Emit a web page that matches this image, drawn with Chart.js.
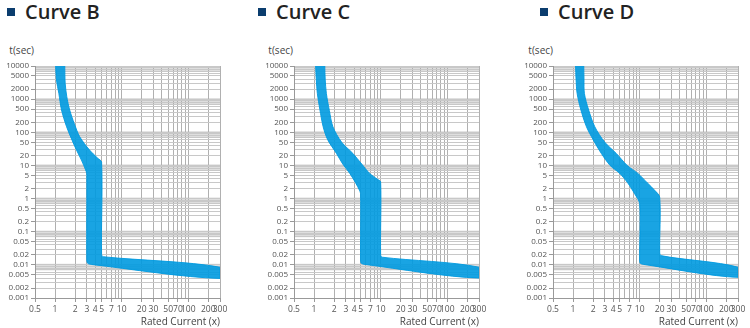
<!DOCTYPE html>
<html>
<head>
<meta charset="utf-8">
<script src="https://cdn.jsdelivr.net/npm/chart.js@4.4.1/dist/chart.umd.min.js"></script>
<style>
body{margin:0;background:#fff;font-family:'Open Sans',sans-serif;}
#wrap{position:relative;width:750px;height:328px;overflow:hidden;}
.panel{position:absolute;top:0;width:240px;height:328px;}
.head{position:absolute;top:0;font-size:20px;font-weight:600;color:#222;white-space:nowrap;line-height:24px;}
.head i{display:inline-block;width:8px;height:8px;background:#0b3d6e;margin-right:10px;vertical-align:3px;}
.unit{position:absolute;top:43px;width:40px;font-size:10px;color:#444;text-align:right;}
</style>
</head>
<body>
<div id="wrap">
  <div class="head" style="left:7px"><i></i>Curve B</div>
  <div class="head" style="left:258px"><i></i>Curve C</div>
  <div class="head" style="left:540px"><i></i>Curve D</div>
  <div class="unit" style="left:-6px">t(sec)</div>
  <div class="unit" style="left:253px">t(sec)</div>
  <div class="unit" style="left:513px">t(sec)</div>
  <div class="panel" style="left:0"><canvas id="chartB" width="240" height="328"></canvas></div>
  <div class="panel" style="left:259px"><canvas id="chartC" width="240" height="328"></canvas></div>
  <div class="panel" style="left:518px"><canvas id="chartD" width="240" height="328"></canvas></div>
</div>
<script>
// axis labels
const yLabels = [10000, 5000, 2000, 1000, 500, 200, 100, 50, 20, 10, 5, 2, 1, 0.5, 0.2, 0.1, 0.05, 0.02, 0.01, 0.005, 0.002, 0.001];
const xLabels = [0.5, 1, 2, 3, 4, 5, 7, 10, 20, 30, 50, 70, 100, 200, 300];
const xGrid = [0.5, 1, 2, 3, 4, 5, 6, 7, 8, 9, 10, 20, 30, 40, 50, 60, 70, 80, 90, 100, 200, 300];
const bandDecades = [0.01, 0.1, 1, 10, 100, 1000, 10000];

// tripping band outlines (multiple of rated current, seconds)
const curveBx = [1.02, 1.05, 1.14, 1.25, 1.49, 1.8, 2.1, 2.49, 2.95, 3, 3, 3.08, 3.5, 300, 300, 5.4, 5, 5, 4.3, 3.3, 2.35, 1.95, 1.66, 1.5, 1.42, 1.4];
const curveBt = [10000, 3800, 1500, 470, 147, 58, 29, 14.5, 6.4, 5, 0.014, 0.0112, 0.0103, 0.0039, 0.0085, 0.0175, 0.02, 12.5, 17, 29, 73, 180, 469, 1200, 3000, 10000];

const curveCx = [1.055, 1.08, 1.12, 1.22, 1.37, 1.6, 2.17, 2.7, 3.43, 4.2, 4.8, 5, 5, 5.1, 5.8, 300, 300, 10.6, 10, 10, 9, 6.8, 5.2, 3.83, 2.6, 1.92, 1.7, 1.53, 1.47, 1.45];
const curveCt = [10000, 4000, 1500, 500, 147, 60, 23, 11, 5.8, 3, 1.8, 1.4, 0.014, 0.0112, 0.0103, 0.004, 0.0085, 0.017, 0.02, 3.2, 3.8, 5.8, 11, 23, 50, 147, 450, 1496, 4000, 10000];

const curveDx = [1.09, 1.11, 1.15, 1.3, 1.59, 2, 2.66, 3.6, 5, 6.6, 8.4, 10, 10, 10.2, 11.5, 300, 300, 20.8, 20, 20, 16.7, 13, 9.35, 6.5, 4.46, 3, 2.12, 1.7, 1.48, 1.46, 1.45];
const curveDt = [10000, 4000, 1500, 500, 147, 60, 23, 10, 5.8, 3, 1.4, 0.7, 0.014, 0.0112, 0.0103, 0.0042, 0.0085, 0.019, 0.025, 1.1, 1.8, 3, 5.8, 10, 23, 50, 147, 500, 1496, 4000, 10000];

function yGridValues() {
    const out = [];
    for (let e = -3; e < 4; e++) {
        for (let m = 1; m < 10; m++) out.push(Number((m * Math.pow(10, e)).toPrecision(3)));
    }
    out.push(10000);
    return out;
}

// light grey bands around each decade line
const bandPlugin = {
    id: 'bands',
    beforeDraw(chart) {
        const {ctx, chartArea, scales} = chart;
        ctx.save();
        ctx.beginPath();
        ctx.rect(chartArea.left, chartArea.top, chartArea.right - chartArea.left, chartArea.bottom - chartArea.top);
        ctx.clip();
        ctx.fillStyle = 'rgba(0,0,0,0.13)';
        bandDecades.forEach(d => {
            const y1 = scales.y.getPixelForValue(d * 1.08);
            const y2 = scales.y.getPixelForValue(d * 0.68);
            ctx.fillRect(chartArea.left, y1, chartArea.right - chartArea.left, y2 - y1);
        });
        ctx.restore();
    }
};

Chart.defaults.font.family = "'Open Sans', sans-serif";
Chart.defaults.color = '#555';

function makeChart(id, xs, ts) {
    return new Chart(document.getElementById(id), {
        type: 'scatter',
        data: {
            datasets: [{
                data: xs.map((v, i) => ({x: v, y: ts[i]})),
                showLine: true,
                fill: 'shape',
                backgroundColor: 'rgba(0,154,224,0.9)',
                borderColor: 'rgba(0,154,224,0.9)',
                borderWidth: 1,
                pointRadius: 0,
                tension: 0.3
            }]
        },
        options: {
            responsive: false,
            animation: false,
            events: [],
            layout: {padding: {top: 66, left: 0, right: 20, bottom: 0}},
            plugins: {legend: {display: false}, tooltip: {enabled: false}},
            scales: {
                x: {
                    type: 'logarithmic',
                    min: 0.5, max: 300,
                    afterBuildTicks: s => { s.ticks = xGrid.map(v => ({value: v})); },
                    afterFit: s => { s.height = 30; },
                    ticks: {
                        autoSkip: false, maxRotation: 0, minRotation: 0, padding: 2,
                        font: {size: 8.5}, color: '#555',
                        callback: v => xLabels.includes(v) ? String(v) : ''
                    },
                    grid: {
                        color: '#b0b0b0', lineWidth: 1, tickLength: 4,
                        tickColor: c => xLabels.includes(c.tick.value) ? '#999' : 'rgba(0,0,0,0)'
                    },
                    border: {color: '#999'},
                    title: {display: true, text: 'Rated Current (x)', align: 'end', color: '#444', font: {size: 10}, padding: 0}
                },
                y: {
                    type: 'logarithmic',
                    min: 0.001, max: 10000,
                    afterBuildTicks: s => { s.ticks = yGridValues().map(v => ({value: v})); },
                    afterFit: s => { s.width = 35; },
                    ticks: {
                        autoSkip: false, padding: 2,
                        font: {size: 8}, color: '#555',
                        callback: v => yLabels.includes(v) ? String(v) : ''
                    },
                    grid: {
                        color: '#c8c8c8', lineWidth: 1, tickLength: 4,
                        tickColor: c => yLabels.includes(c.tick.value) ? '#999' : 'rgba(0,0,0,0)'
                    },
                    border: {color: '#999'}
                }
            }
        },
        plugins: [bandPlugin]
    });
}

makeChart('chartB', curveBx, curveBt);
makeChart('chartC', curveCx, curveCt);
makeChart('chartD', curveDx, curveDt);
</script>
</body>
</html>
